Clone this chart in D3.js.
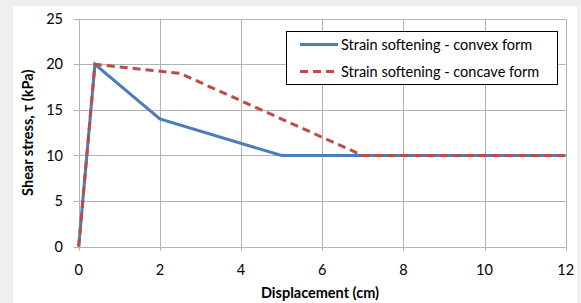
<!DOCTYPE html>
<html>
<head>
<meta charset="utf-8">
<script src="https://cdn.jsdelivr.net/npm/d3@7"></script>
<style>
  body { margin: 0; background: #efefef; }
  svg { display: block; font-family: Lato, 'Open Sans', sans-serif; }
</style>
</head>
<body>
<svg id="chart"></svg>
<script>
const width = 581
const height = 303

// data
const xTicks = [0, 2, 4, 6, 8, 10, 12]
const yTicks = [0, 5, 10, 15, 20, 25]
const convexX = [0, 0.4, 2, 5, 12]
const convexY = [0, 20, 14, 10, 10]
const concaveX = [0, 0.4, 2.5, 7, 12]
const concaveY = [0, 20, 19, 10, 10]
const seriesNames = ['Strain softening - convex form', 'Strain softening - concave form']

const series = [
  { name: seriesNames[0], color: '#4a7ebb', dash: null, values: convexX.map((x, i) => ({ x, y: convexY[i] })) },
  { name: seriesNames[1], color: '#be4b48', dash: '8,5', values: concaveX.map((x, i) => ({ x, y: concaveY[i] })) },
]

const fontSize = 14.5

const svg = d3.select('#chart').attr('width', width).attr('height', height)

// white chart panel
svg.append('rect')
  .attr('x', 13).attr('y', 6)
  .attr('width', 564).attr('height', 297)
  .attr('fill', '#fff')

const x = d3.scaleLinear().domain([0, 12]).range([78.7, 565.7])
const y = d3.scaleLinear().domain([0, 25]).range([246.7, 18.7])

// --------------------------------------------------------------
// grid
const grid = svg.append('g').attr('stroke', '#b3b3b3').attr('stroke-width', 1)
grid.selectAll('.gx')
  .data(xTicks)
  .join('line')
  .attr('x1', d => Math.round(x(d)) + 0.5).attr('x2', d => Math.round(x(d)) + 0.5)
  .attr('y1', y(25)).attr('y2', y(0) + 4)
grid.selectAll('.gy')
  .data(yTicks)
  .join('line')
  .attr('class', 'gy')
  .attr('x1', x(0) - 5).attr('x2', x(12))
  .attr('y1', d => Math.round(y(d)) + 0.5).attr('y2', d => Math.round(y(d)) + 0.5)

// tick labels
svg.append('g')
  .selectAll('text')
  .data(yTicks)
  .join('text')
  .attr('x', 63)
  .attr('y', d => y(d))
  .attr('dy', '0.35em')
  .attr('text-anchor', 'end')
  .attr('font-size', fontSize)
  .attr('fill', '#000')
  .text(d => d)

svg.append('g')
  .selectAll('text')
  .data(xTicks)
  .join('text')
  .attr('x', d => x(d))
  .attr('y', 270)
  .attr('dy', '0.35em')
  .attr('text-anchor', 'middle')
  .attr('font-size', fontSize)
  .text(d => d)

// axis titles
svg.append('text')
  .attr('x', 320).attr('y', 293)
  .attr('dy', '0.35em')
  .attr('text-anchor', 'middle')
  .attr('font-size', fontSize)
  .attr('font-weight', 'bold')
  .text('Displacement (cm)')

svg.append('text')
  .attr('transform', 'translate(28,' + ((y(0) + y(25)) / 2) + ') rotate(-90)')
  .attr('dy', '0.35em')
  .attr('text-anchor', 'middle')
  .attr('font-size', fontSize)
  .attr('font-weight', 'bold')
  .text('Shear stress, τ (kPa)')

// --------------------------------------------------------------
// lines
const line = d3.line().x(d => x(d.x)).y(d => y(d.y))

svg.append('g')
  .selectAll('path')
  .data(series)
  .join('path')
  .attr('d', d => line(d.values))
  .attr('fill', 'none')
  .attr('stroke', d => d.color)
  .attr('stroke-width', 3)
  .attr('stroke-dasharray', d => d.dash)

// --------------------------------------------------------------
// legend
const legend = svg.append('g')
legend.append('rect')
  .attr('x', 286.5).attr('y', 31.5)
  .attr('width', 271).attr('height', 53)
  .attr('fill', '#fff')
  .attr('stroke', '#000')
  .attr('stroke-width', 1)

const items = legend.selectAll('g')
  .data(series)
  .join('g')
  .attr('transform', (d, i) => 'translate(0,' + (44.5 + i * 27) + ')')
items.append('line')
  .attr('x1', 300).attr('x2', 338)
  .attr('stroke', d => d.color)
  .attr('stroke-width', 3)
  .attr('stroke-dasharray', d => d.dash)
items.append('text')
  .attr('x', 341)
  .attr('dy', '0.35em')
  .attr('font-size', fontSize)
  .text(d => d.name)
</script>
</body>
</html>
